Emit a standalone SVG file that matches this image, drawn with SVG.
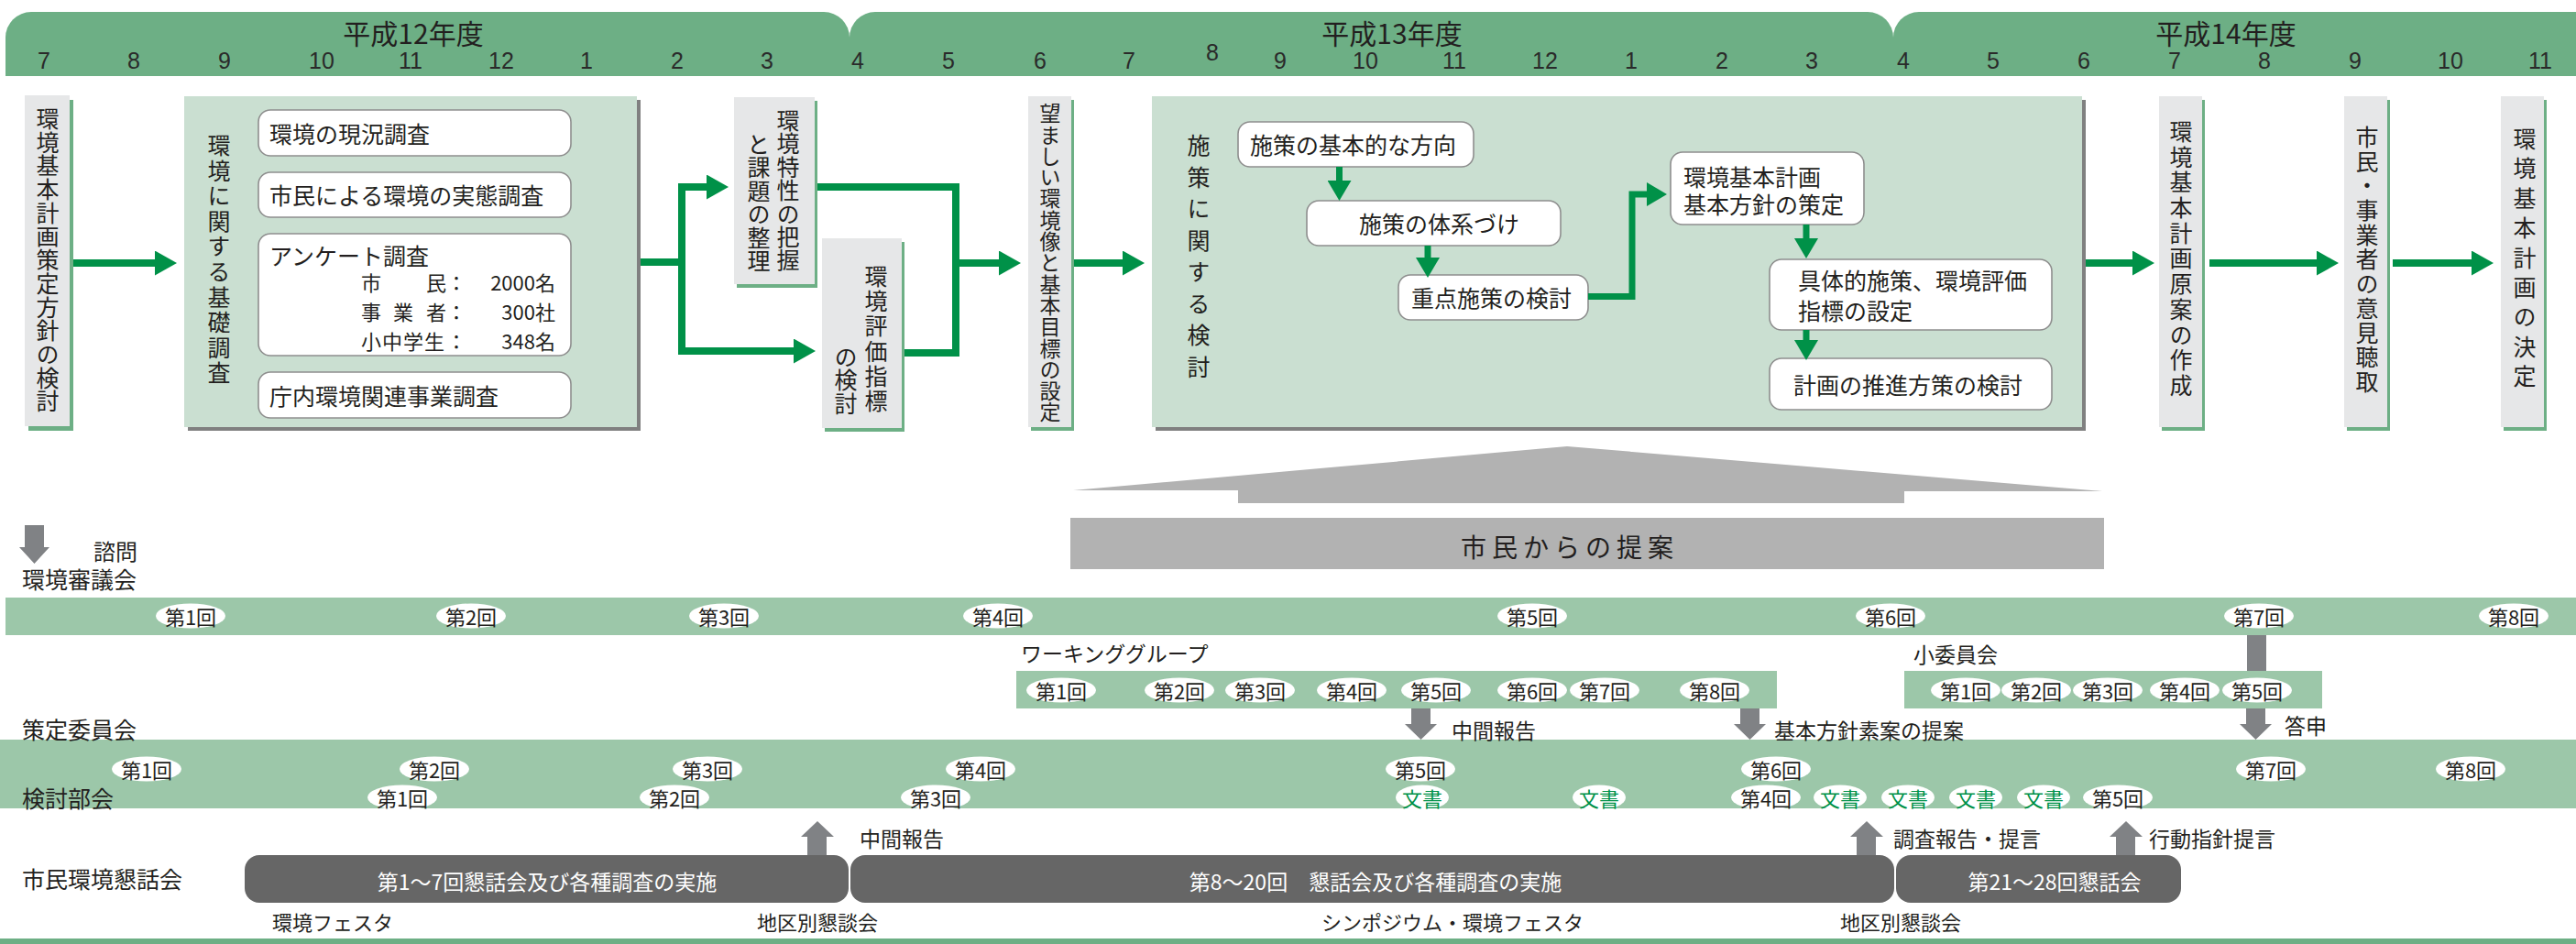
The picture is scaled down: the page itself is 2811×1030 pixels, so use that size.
<svg xmlns="http://www.w3.org/2000/svg" width="2811" height="1030" viewBox="0 0 2811 1030">
<style>
.t{font-family:"Noto Sans CJK JP","Noto Sans",sans-serif;fill:#231f20;}
.h{dominant-baseline:central;}
.v{writing-mode:vertical-rl;font-size:25px;}
.hdr{fill:#6daf85;}
.mon{font-family:"Liberation Sans Narrow","Liberation Sans",sans-serif;font-size:25px;fill:#2a2a2a;text-anchor:middle;dominant-baseline:central;}
.yr{font-size:30px;text-anchor:middle;dominant-baseline:central;}
.node{fill:#e6e7e8;}
.nsh{fill:#6daf85;}
.cont{fill:#cadfd1;}
.csh{fill:#808080;}
.rb{fill:#fff;stroke:#8e8e8e;stroke-width:1.6;}
.bt{font-size:25px;}
.band{fill:#9cc7a9;}
.bd{fill:#fff;}
.bdt{font-size:22px;text-anchor:middle;dominant-baseline:central;}
.doc{fill:#009148;}
.lbl{font-size:23px;}
.rl{font-size:25px;}
.dk{fill:#666666;}
.dkt{fill:#fff;font-size:23px;text-anchor:middle;dominant-baseline:central;}
.garr{fill:#808285;}
.gl{fill:none;stroke:#009148;stroke-width:8;}
.gls{fill:none;stroke:#009148;stroke-width:7;}
.br{fill:none;stroke:#8a8a8a;stroke-width:2.5;}
</style>
<defs>
<marker id="ga" markerUnits="userSpaceOnUse" markerWidth="24" markerHeight="27" viewBox="0 0 24 27" refX="1" refY="13.5" orient="auto"><path d="M0,0 L24,13.5 L0,27 Z" fill="#009148"/></marker>
<marker id="gs" markerUnits="userSpaceOnUse" markerWidth="22" markerHeight="26" viewBox="0 0 22 26" refX="1" refY="13" orient="auto"><path d="M0,0 L22,13 L0,26 Z" fill="#009148"/></marker>
</defs>
<rect width="2811" height="1030" fill="#fff"/>

<g id="header">
<path class="hdr" d="M6,83 V41 A28,28 0 0 1 34,13 H899 A28,28 0 0 1 927,41 V83 Z"/>
<path class="hdr" d="M927,83 V41 A28,28 0 0 1 955,13 H2038 A28,28 0 0 1 2066,41 V83 Z"/>
<path class="hdr" d="M2066,83 V41 A28,28 0 0 1 2094,13 H2840 V83 Z"/>
<text class="t yr" x="451" y="35">平成12年度</text>
<text class="t yr" x="1519" y="35">平成13年度</text>
<text class="t yr" x="2429" y="35">平成14年度</text>
<text class="mon" x="48" y="66">7</text>
<text class="mon" x="146" y="66">8</text>
<text class="mon" x="245" y="66">9</text>
<text class="mon" x="351" y="66">10</text>
<text class="mon" x="448" y="66">11</text>
<text class="mon" x="547" y="66">12</text>
<text class="mon" x="640" y="66">1</text>
<text class="mon" x="739" y="66">2</text>
<text class="mon" x="837" y="66">3</text>
<text class="mon" x="936" y="66">4</text>
<text class="mon" x="1035" y="66">5</text>
<text class="mon" x="1135" y="66">6</text>
<text class="mon" x="1232" y="66">7</text>
<text class="mon" x="1323" y="57">8</text>
<text class="mon" x="1397" y="66">9</text>
<text class="mon" x="1490" y="66">10</text>
<text class="mon" x="1587" y="66">11</text>
<text class="mon" x="1686" y="66">12</text>
<text class="mon" x="1780" y="66">1</text>
<text class="mon" x="1879" y="66">2</text>
<text class="mon" x="1977" y="66">3</text>
<text class="mon" x="2077" y="66">4</text>
<text class="mon" x="2175" y="66">5</text>
<text class="mon" x="2274" y="66">6</text>
<text class="mon" x="2373" y="66">7</text>
<text class="mon" x="2471" y="66">8</text>
<text class="mon" x="2570" y="66">9</text>
<text class="mon" x="2674" y="66">10</text>
<text class="mon" x="2772" y="66">11</text>
</g>

<g id="connectors">
<path class="gl" d="M79,287 H170" marker-end="url(#ga)"/>
<path class="gl" d="M698,286 H744 V204 H772" marker-end="url(#ga)"/>
<path class="gl" d="M744,286 V383 H867" marker-end="url(#ga)"/>
<path class="gl" d="M892,204 H1043 V385 H987"/>
<path class="gl" d="M1043,287 H1091" marker-end="url(#ga)"/>
<path class="gl" d="M1171,287 H1226" marker-end="url(#ga)"/>
<path class="gl" d="M2276,287 H2328" marker-end="url(#ga)"/>
<path class="gl" d="M2411,287 H2529" marker-end="url(#ga)"/>
<path class="gl" d="M2611,287 H2698" marker-end="url(#ga)"/>
<path class="br" d="M623,144 H668 M623,212 H668 M623,321 H668 M623,430 H668 M668,143 V431"/>
</g>

<g id="nodeA">
<rect class="nsh" x="31" y="109" width="49" height="361"/>
<rect class="node" x="27" y="104" width="49" height="361"/>
<text class="t v" x="52" y="117" style="letter-spacing:0.7px">環境基本計画策定方針の検討</text>
</g>

<g id="nodeB">
<rect class="csh" x="205" y="109" width="494" height="361"/>
<rect class="cont" x="201" y="105" width="494" height="361"/>
<text class="t v" x="239" y="146" style="letter-spacing:2.6px">環境に関する基礎調査</text>
<g id="b1"><rect class="rb" x="282" y="120" width="341" height="50" rx="13"/>
<text class="t h bt" x="294" y="145">環境の現況調査</text></g>
<g id="b2"><rect class="rb" x="282" y="188" width="341" height="49" rx="13"/>
<text class="t h bt" x="294" y="212">市民による環境の実態調査</text></g>
<g id="b3"><rect class="rb" x="282" y="255" width="341" height="133" rx="13"/>
<text class="t h bt" x="294" y="278">アンケート調査</text>
<text class="t h" font-size="22" x="394 416 440 465 487" y="307">市　　民：</text>
<text class="t h" font-size="22" x="394 429 465 487" y="339">事業者：</text>
<text class="t h" font-size="22" x="394 417 440 463 487" y="371">小中学生：</text>
<text class="t h" font-size="22" x="606" y="307" text-anchor="end">2000名</text>
<text class="t h" font-size="22" x="606" y="339" text-anchor="end">300社</text>
<text class="t h" font-size="22" x="606" y="371" text-anchor="end">348名</text></g>
<g id="b4"><rect class="rb" x="282" y="406" width="341" height="50" rx="13"/>
<text class="t h bt" x="294" y="431">庁内環境関連事業調査</text></g>
</g>

<g id="nodeC">
<rect class="nsh" x="804" y="110" width="88" height="204"/>
<rect class="node" x="801" y="106" width="88" height="204"/>
<text class="t v" x="860" y="119" style="letter-spacing:0.4px">環境特性の把握</text>
<text class="t v" x="828" y="145" style="letter-spacing:0.4px">と課題の整理</text>
</g>

<g id="nodeD">
<rect class="nsh" x="900" y="264" width="87" height="207"/>
<rect class="node" x="897" y="260" width="87" height="207"/>
<text class="t v" x="956" y="289" style="letter-spacing:2.2px">環境評価指標</text>
<text class="t v" x="923" y="377" style="letter-spacing:0.3px">の検討</text>
</g>

<g id="nodeE">
<rect class="nsh" x="1125" y="109" width="47" height="361"/>
<rect class="node" x="1122" y="105" width="47" height="361"/>
<text class="t v" x="1146" y="112" style="font-size:23px;letter-spacing:0.3px">望ましい環境像と基本目標の設定</text>
</g>

<g id="nodeF">
<rect class="csh" x="1261" y="109" width="1015" height="361"/>
<rect class="cont" x="1257" y="105" width="1015" height="361"/>
<text class="t v" x="1308" y="146" style="letter-spacing:9.5px">施策に関する検討</text>
<g id="f1"><rect class="rb" x="1351" y="133" width="257" height="49" rx="13"/>
<text class="t h bt" x="1364" y="157">施策の基本的な方向</text></g>
<g id="f2"><rect class="rb" x="1426" y="219" width="277" height="49" rx="13"/>
<text class="t h bt" x="1483" y="243">施策の体系づけ</text></g>
<g id="f3"><rect class="rb" x="1526" y="300" width="207" height="49" rx="13"/>
<text class="t h bt" x="1540" y="324">重点施策の検討</text></g>
<g id="f4"><rect class="rb" x="1823" y="166" width="211" height="79" rx="13"/>
<text class="t h bt"><tspan x="1837" y="192">環境基本計画</tspan><tspan x="1837" y="222">基本方針の策定</tspan></text></g>
<g id="f5"><rect class="rb" x="1931" y="283" width="308" height="77" rx="13"/>
<text class="t h bt"><tspan x="1962" y="305">具体的施策、環境評価</tspan><tspan x="1962" y="338">指標の設定</tspan></text></g>
<g id="f6"><rect class="rb" x="1931" y="391" width="308" height="56" rx="13"/>
<text class="t h bt" x="1957" y="419">計画の推進方策の検討</text></g>
<g id="fconn">
<path class="gls" d="M1461.5,182 V198" marker-end="url(#gs)"/>
<path class="gls" d="M1558,268 V282" marker-end="url(#gs)"/>
<path class="gls" d="M1733,323.5 H1781 V212 H1798" marker-end="url(#gs)"/>
<path class="gls" d="M1971,245 V261" marker-end="url(#gs)"/>
<path class="gls" d="M1971,360 V372" marker-end="url(#gs)"/>
</g>
</g>

<g id="nodeG">
<rect class="nsh" x="2359" y="109" width="47" height="361"/>
<rect class="node" x="2356" y="105" width="47" height="361"/>
<text class="t v" x="2380" y="131" style="letter-spacing:2.7px">環境基本計画原案の作成</text>
</g>
<g id="nodeH">
<rect class="nsh" x="2561" y="109" width="47" height="361"/>
<rect class="node" x="2558" y="105" width="47" height="361"/>
<text class="t v" x="2583" y="137" style="letter-spacing:1.7px">市民・事業者の意見聴取</text>
</g>
<g id="nodeI">
<rect class="nsh" x="2732" y="109" width="47" height="361"/>
<rect class="node" x="2729" y="105" width="47" height="361"/>
<text class="t v" x="2755" y="139" style="letter-spacing:7.4px">環境基本計画の決定</text>
</g>

<g id="proposal">
<polygon points="1171,535 1710,487 2294,536 2078,536 2078,549 1351,549 1351,535" fill="#b2b2b2"/>
<rect x="1168" y="565" width="1128" height="56" fill="#b2b2b2"/>
<text class="t h" x="1713" y="596" font-size="28" text-anchor="middle" style="letter-spacing:6px" fill="#333">市民からの提案</text>
</g>

<g id="shingikai">
<rect class="band" x="6" y="652" width="2810" height="41"/>
<g class="bd">
<ellipse cx="208" cy="672" rx="38" ry="13.5"/><ellipse cx="514" cy="672" rx="38" ry="13.5"/><ellipse cx="790" cy="672" rx="38" ry="13.5"/><ellipse cx="1089" cy="672" rx="38" ry="13.5"/><ellipse cx="1672" cy="672" rx="38" ry="13.5"/><ellipse cx="2063" cy="672" rx="38" ry="13.5"/><ellipse cx="2465" cy="672" rx="38" ry="13.5"/><ellipse cx="2743" cy="672" rx="38" ry="13.5"/>
</g>
<text class="t bdt" x="208" y="672">第1回</text><text class="t bdt" x="514" y="672">第2回</text><text class="t bdt" x="790" y="672">第3回</text><text class="t bdt" x="1089" y="672">第4回</text><text class="t bdt" x="1672" y="672">第5回</text><text class="t bdt" x="2063" y="672">第6回</text><text class="t bdt" x="2465" y="672">第7回</text><text class="t bdt" x="2743" y="672">第8回</text>
</g>

<g id="workinggroup">
<text class="t h lbl" x="1114" y="712">ワーキンググループ</text>
<rect class="band" x="1109" y="732" width="830" height="41"/>
<g class="bd">
<ellipse cx="1158" cy="753" rx="38" ry="13.5"/><ellipse cx="1287" cy="753" rx="38" ry="13.5"/><ellipse cx="1375" cy="753" rx="38" ry="13.5"/><ellipse cx="1475" cy="753" rx="38" ry="13.5"/><ellipse cx="1567" cy="753" rx="38" ry="13.5"/><ellipse cx="1672" cy="753" rx="38" ry="13.5"/><ellipse cx="1751" cy="753" rx="38" ry="13.5"/><ellipse cx="1871" cy="753" rx="38" ry="13.5"/>
</g>
<text class="t bdt" x="1158" y="753">第1回</text><text class="t bdt" x="1287" y="753">第2回</text><text class="t bdt" x="1375" y="753">第3回</text><text class="t bdt" x="1475" y="753">第4回</text><text class="t bdt" x="1567" y="753">第5回</text><text class="t bdt" x="1672" y="753">第6回</text><text class="t bdt" x="1751" y="753">第7回</text><text class="t bdt" x="1871" y="753">第8回</text>
</g>

<g id="subcommittee">
<text class="t h lbl" x="2088" y="713">小委員会</text>
<rect class="band" x="2078" y="732" width="456" height="41"/>
<g class="bd">
<ellipse cx="2145" cy="753" rx="38" ry="13.5"/><ellipse cx="2222" cy="753" rx="38" ry="13.5"/><ellipse cx="2300" cy="753" rx="38" ry="13.5"/><ellipse cx="2384" cy="753" rx="38" ry="13.5"/><ellipse cx="2463" cy="753" rx="38" ry="13.5"/>
</g>
<text class="t bdt" x="2145" y="753">第1回</text><text class="t bdt" x="2222" y="753">第2回</text><text class="t bdt" x="2300" y="753">第3回</text><text class="t bdt" x="2384" y="753">第4回</text><text class="t bdt" x="2463" y="753">第5回</text>
</g>

<g id="iinkai">
<rect class="band" x="0" y="807" width="2811" height="75"/>
<g class="bd">
<ellipse cx="160" cy="839" rx="38" ry="13.5"/><ellipse cx="474" cy="839" rx="38" ry="13.5"/><ellipse cx="772" cy="839" rx="38" ry="13.5"/><ellipse cx="1070" cy="839" rx="38" ry="13.5"/><ellipse cx="1550" cy="839" rx="38" ry="13.5"/><ellipse cx="1938" cy="839" rx="38" ry="13.5"/><ellipse cx="2478" cy="839" rx="38" ry="13.5"/><ellipse cx="2696" cy="839" rx="38" ry="13.5"/>
<ellipse cx="439" cy="870" rx="38" ry="13.5"/><ellipse cx="736" cy="870" rx="38" ry="13.5"/><ellipse cx="1021" cy="870" rx="38" ry="13.5"/><ellipse cx="1927" cy="870" rx="38" ry="13.5"/><ellipse cx="2311" cy="870" rx="38" ry="13.5"/>
<ellipse cx="1552" cy="870" rx="29" ry="13.5"/><ellipse cx="1745" cy="870" rx="29" ry="13.5"/><ellipse cx="2008" cy="870" rx="29" ry="13.5"/><ellipse cx="2082" cy="870" rx="29" ry="13.5"/><ellipse cx="2156" cy="870" rx="29" ry="13.5"/><ellipse cx="2230" cy="870" rx="29" ry="13.5"/>
</g>
<text class="t bdt" x="160" y="839">第1回</text><text class="t bdt" x="474" y="839">第2回</text><text class="t bdt" x="772" y="839">第3回</text><text class="t bdt" x="1070" y="839">第4回</text><text class="t bdt" x="1550" y="839">第5回</text><text class="t bdt" x="1938" y="839">第6回</text><text class="t bdt" x="2478" y="839">第7回</text><text class="t bdt" x="2696" y="839">第8回</text>
<text class="t bdt" x="439" y="870">第1回</text><text class="t bdt" x="736" y="870">第2回</text><text class="t bdt" x="1021" y="870">第3回</text><text class="t bdt" x="1927" y="870">第4回</text><text class="t bdt" x="2311" y="870">第5回</text>
<text class="t bdt doc" x="1552" y="870">文書</text><text class="t bdt doc" x="1745" y="870">文書</text><text class="t bdt doc" x="2008" y="870">文書</text><text class="t bdt doc" x="2082" y="870">文書</text><text class="t bdt doc" x="2156" y="870">文書</text><text class="t bdt doc" x="2230" y="870">文書</text>
</g>

<g id="labels">
<polygon class="garr" points="27,573 48,573 48,597 54,597 37.5,615 21,597 27,597"/>
<text class="t h" x="102" y="600" font-size="24">諮問</text>
<text class="t h rl" x="24" y="631">環境審議会</text>
<text class="t h rl" x="24" y="795">策定委員会</text>
<text class="t h rl" x="24" y="870">検討部会</text>
<text class="t h rl" x="24" y="958">市民環境懇話会</text>
</g>

<g id="grayarrows">
<rect class="garr" x="2452" y="693" width="21" height="39"/>
<polygon class="garr" points="1540,773 1561,773 1561,790 1568,790 1550.5,807 1533,790 1540,790"/>
<text class="t h lbl" x="1584" y="796">中間報告</text>
<polygon class="garr" points="1899,773 1920,773 1920,790 1927,790 1909.5,807 1892,790 1899,790"/>
<text class="t h lbl" x="1936" y="796">基本方針素案の提案</text>
<polygon class="garr" points="2451,773 2472,773 2472,790 2479,790 2461.5,807 2444,790 2451,790"/>
<text class="t h lbl" x="2493" y="791">答申</text>
<polygon class="garr" points="881,933 902,933 902,913 910,913 892,896 874,913 881,913"/>
<text class="t h lbl" x="938" y="914">中間報告</text>
<polygon class="garr" points="2026,933 2047,933 2047,913 2055,913 2037,896 2019,913 2026,913"/>
<text class="t h lbl" x="2066" y="914">調査報告・提言</text>
<polygon class="garr" points="2309,933 2330,933 2330,913 2338,913 2320,896 2302,913 2309,913"/>
<text class="t h lbl" x="2345" y="914">行動指針提言</text>
</g>

<g id="konwakai">
<rect class="dk" x="267" y="933" width="659" height="52" rx="16"/>
<text class="t dkt" x="597" y="961">第1～7回懇話会及び各種調査の実施</text>
<rect class="dk" x="928" y="933" width="1139" height="52" rx="16"/>
<text class="t dkt" x="1501" y="961">第8～20回　懇話会及び各種調査の実施</text>
<rect class="dk" x="2069" y="933" width="311" height="52" rx="16"/>
<text class="t dkt" x="2242" y="961">第21～28回懇話会</text>
<text class="t h" font-size="22" x="297" y="1005">環境フェスタ</text>
<text class="t h" font-size="22" x="826" y="1005">地区別懇談会</text>
<text class="t h" font-size="22" x="1442" y="1005">シンポジウム・環境フェスタ</text>
<text class="t h" font-size="22" x="2008" y="1005">地区別懇談会</text>
</g>

<rect id="bottomline" x="0" y="1024" width="2811" height="6" fill="#6daf85"/>
</svg>
